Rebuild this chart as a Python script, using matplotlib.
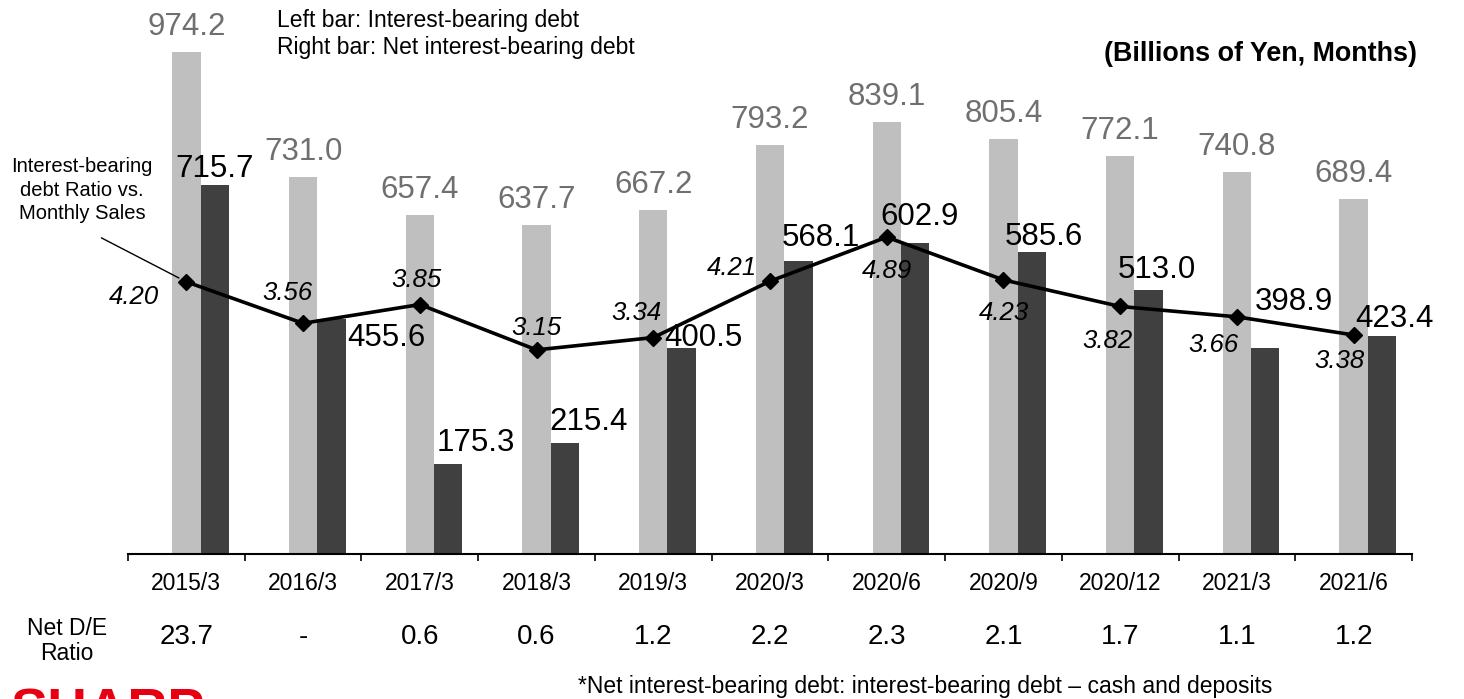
import numpy as np
import matplotlib
matplotlib.use('Agg')
import matplotlib.pyplot as plt
from matplotlib.transforms import blended_transform_factory

plt.rcParams['font.family'] = ['Liberation Sans', 'DejaVu Sans']

# ── Data (billions of yen / months) ──
periods = ['2015/3', '2016/3', '2017/3', '2018/3', '2019/3', '2020/3',
           '2020/6', '2020/9', '2020/12', '2021/3', '2021/6']
debt = [974.2, 731.0, 657.4, 637.7, 667.2, 793.2, 839.1, 805.4, 772.1, 740.8, 689.4]
net_debt = [715.7, 455.6, 175.3, 215.4, 400.5, 568.1, 602.9, 585.6, 513.0, 398.9, 423.4]
debt_ratio = [4.20, 3.56, 3.85, 3.15, 3.34, 4.21, 4.89, 4.23, 3.82, 3.66, 3.38]
net_de_ratio = ['23.7', '-', '0.6', '0.6', '1.2', '2.2', '2.3', '2.1', '1.7', '1.1', '1.2']

# label offsets in pixels (dx, dy)
net_off = [(0, 16), (55, -19), (28, 21), (24, 21), (22, 10), (22, 23),
           (4, 26), (12, 15), (8, 20), (29, 46), (12, 17)]
ratio_off = [(-52, -15), (-16, 30), (-3, 25), (0, 22), (-17, 25), (-38, 13),
             (0, -34), (0, -33), (-13, -35), (-23, -28), (-14, -26)]

W, H = 1464, 699
fig = plt.figure(figsize=(W / 100, H / 100), dpi=100)
px_per_unit = 502.0 / 974.2
ymax = 1000
ax = fig.add_axes([128 / W, (H - 554) / H, 1284 / W, ymax * px_per_unit / H])

x = np.arange(len(periods))
w = 0.243
ax.bar(x, debt, w, color='#bfbfbf', zorder=2)
ax.bar(x + w, net_debt, w, color='#404040', zorder=2)
ax.set_xlim(-0.5, len(periods) - 0.5)
ax.set_ylim(0, ymax)

for s in ['top', 'right', 'left']:
    ax.spines[s].set_visible(False)
ax.spines['bottom'].set_linewidth(1.5)
ax.set_yticks([])
ax.set_xticks(np.arange(-0.5, len(periods), 1))
ax.set_xticklabels([])
ax.tick_params(axis='x', which='major', direction='out', length=5, width=1.2)
ax.set_xticks(x, minor=True)
ax.set_xticklabels(periods, minor=True, fontsize=16.5)
ax.tick_params(axis='x', which='minor', length=0, pad=13)

# value labels on bars
for i, v in enumerate(debt):
    ax.annotate(f'{v:.1f}', (x[i], v), xytext=(0, 10), textcoords='offset pixels',
                ha='center', va='bottom', fontsize=22.5, color='#6f6f6f',
                annotation_clip=False)
for i, v in enumerate(net_debt):
    ax.annotate(f'{v:.1f}', (x[i] + w, v), xytext=net_off[i], textcoords='offset pixels',
                ha='center', va='center', fontsize=22.5, color='black',
                annotation_clip=False, zorder=5)

# debt ratio vs monthly sales line
ax2 = ax.twinx()
ax2.set_ylim(0, ymax * px_per_unit / 64.8)
ax2.plot(x, debt_ratio, color='black', lw=2.6, marker='D', ms=8.5, zorder=3)
for s in ax2.spines.values():
    s.set_visible(False)
ax2.set_yticks([])
for i, v in enumerate(debt_ratio):
    ax2.annotate(f'{v:.2f}', (x[i], v), xytext=ratio_off[i], textcoords='offset pixels',
                 ha='center', va='center', fontsize=18.5, style='italic', color='black')

ax2.annotate('', xy=(x[0], debt_ratio[0]), xytext=(-85, 44), textcoords='offset pixels',
             arrowprops=dict(arrowstyle='-', lw=1, color='black', shrinkA=0, shrinkB=6))
fig.text(82 / W, 1 - 190 / H, 'Interest-bearing\ndebt Ratio vs.\nMonthly Sales',
         ha='center', va='center', fontsize=14.5, linespacing=1.3)

# header texts
fig.text(277 / W, 1 - 34 / H, 'Left bar: Interest-bearing debt\nRight bar: Net interest-bearing debt',
         ha='left', va='center', fontsize=16.5, linespacing=1.22)
fig.text(1417 / W, 1 - 54 / H, '(Billions of Yen, Months)', ha='right', va='center',
         fontsize=19.4, fontweight='bold')

# net D/E ratio row
tr = blended_transform_factory(ax.transData, fig.transFigure)
fig.text(67 / W, 1 - 641 / H, 'Net D/E\nRatio', ha='center', va='center',
         fontsize=16.5, linespacing=1.15)
for i, s in enumerate(net_de_ratio):
    ax.text(x[i], 1 - 637 / H, s, transform=tr, ha='center', va='center', fontsize=20)

fig.text(578 / W, 1 - 687 / H,
         '*Net interest-bearing debt: interest-bearing debt \u2013 cash and deposits',
         ha='left', va='center', fontsize=16.5)

# company logo, cut by the lower edge
fig.text(10 / W, (H - 727) / H, 'SHARP', color='#e60012', fontsize=40,
         fontweight='heavy', ha='left', va='baseline')

fig.savefig('out.png', dpi=100)
